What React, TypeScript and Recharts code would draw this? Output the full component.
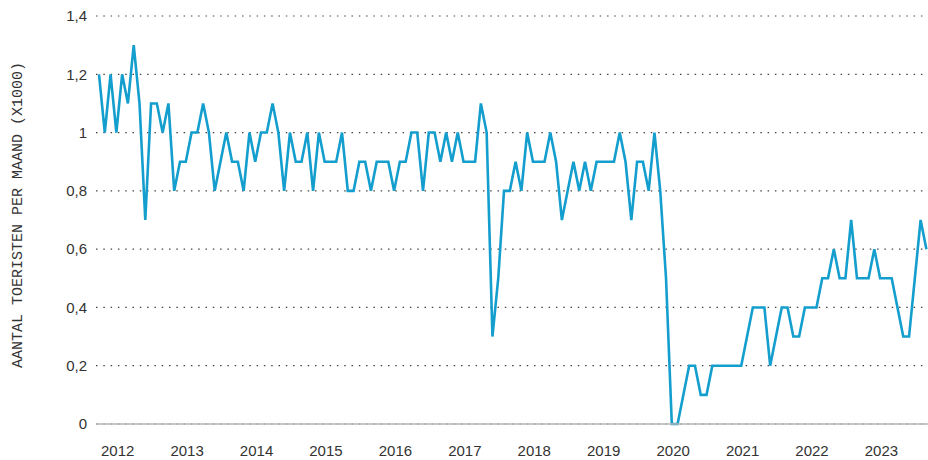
import React from "react";
import { LineChart, Line, XAxis, YAxis, CartesianGrid } from "recharts";

const years = ["2012", "2013", "2014", "2015", "2016", "2017", "2018", "2019", "2020", "2021", "2022", "2023"];

const v2012 = [1.2, 1.0, 1.2, 1.0, 1.2, 1.1, 1.3, 1.1, 0.7, 1.1, 1.1, 1.0];
const v2013 = [1.1, 0.8, 0.9, 0.9, 1.0, 1.0, 1.1, 1.0, 0.8, 0.9, 1.0, 0.9];
const v2014 = [0.9, 0.8, 1.0, 0.9, 1.0, 1.0, 1.1, 1.0, 0.8, 1.0, 0.9, 0.9];
const v2015 = [1.0, 0.8, 1.0, 0.9, 0.9, 0.9, 1.0, 0.8, 0.8, 0.9, 0.9, 0.8];
const v2016 = [0.9, 0.9, 0.9, 0.8, 0.9, 0.9, 1.0, 1.0, 0.8, 1.0, 1.0, 0.9];
const v2017 = [1.0, 0.9, 1.0, 0.9, 0.9, 0.9, 1.1, 1.0, 0.3, 0.5, 0.8, 0.8];
const v2018 = [0.9, 0.8, 1.0, 0.9, 0.9, 0.9, 1.0, 0.9, 0.7, 0.8, 0.9, 0.8];
const v2019 = [0.9, 0.8, 0.9, 0.9, 0.9, 0.9, 1.0, 0.9, 0.7, 0.9, 0.9, 0.8];
const v2020 = [1.0, 0.8, 0.5, 0.0, 0.0, 0.1, 0.2, 0.2, 0.1, 0.1, 0.2, 0.2];
const v2021 = [0.2, 0.2, 0.2, 0.2, 0.3, 0.4, 0.4, 0.4, 0.2, 0.3, 0.4, 0.4];
const v2022 = [0.3, 0.3, 0.4, 0.4, 0.4, 0.5, 0.5, 0.6, 0.5, 0.5, 0.7, 0.5];
const v2023 = [0.5, 0.5, 0.6, 0.5, 0.5, 0.5, 0.4, 0.3, 0.3, 0.5, 0.7, 0.6];

const yTicks = [0, 0.2, 0.4, 0.6, 0.8, 1.0, 1.2, 1.4];
const yTitle = "AANTAL TOERISTEN PER MAAND (X1000)";

const allValues = [
  ...v2012, ...v2013, ...v2014, ...v2015, ...v2016, ...v2017,
  ...v2018, ...v2019, ...v2020, ...v2021, ...v2022, ...v2023,
];
const data = allValues.map((v, i) => ({ i, v }));
const xTicks = years.map((_, k) => k * 12);

const FONT = "'Liberation Sans', Arial, sans-serif";
const MONO = "'Liberation Mono', 'DejaVu Sans Mono', monospace";
const TEXT = "#333333";

const fmtY = (v: number) => String(Math.round(v * 10) / 10).replace(".", ",");

const XTick = (props: any) => {
  const { x, y, payload } = props;
  return (
    <text x={x + 2} y={y} dy="0.71em" textAnchor="start" fill={TEXT} fontSize={15} fontFamily={FONT}>
      {years[Math.round(payload.value / 12)]}
    </text>
  );
};

const YTitle = (props: any) => {
  const { viewBox } = props;
  const cy = viewBox.y + viewBox.height / 2 - 5;
  const cx = 18;
  return (
    <text
      x={cx}
      y={cy}
      transform={`rotate(-90 ${cx} ${cy})`}
      textAnchor="middle"
      dominantBaseline="central"
      fill={TEXT}
      fontSize={15}
      fontFamily={MONO}
    >
      {yTitle}
    </text>
  );
};

export default function App() {
  return (
    <div style={{ position: "absolute", left: 0, top: 0, width: 928, height: 460, background: "#fff" }}>
      <LineChart width={928} height={460} data={data} margin={{ top: 16, right: 0, bottom: 0, left: 0 }}>
        <CartesianGrid vertical={false} stroke="#444" strokeDasharray="1.5 5.8" strokeWidth={1.2} />
        <XAxis
          dataKey="i"
          type="number"
          domain={[0, 143]}
          ticks={xTicks}
          interval={0}
          padding={{ left: 3, right: 1.6 }}
          height={36}
          tickLine={false}
          tickSize={0}
          tickMargin={21}
          axisLine={{ stroke: "#b5b5b5", strokeWidth: 1.5 }}
          tick={<XTick />}
        />
        <YAxis
          type="number"
          domain={[0, 1.4]}
          ticks={yTicks}
          width={96}
          axisLine={false}
          tickLine={false}
          tickSize={0}
          tickMargin={9}
          tickFormatter={fmtY}
          tick={{ fill: TEXT, fontSize: 15, fontFamily: FONT }}
          label={<YTitle />}
        />
        <Line
          type="linear"
          dataKey="v"
          stroke="#139ECE"
          strokeWidth={2.6}
          dot={false}
          activeDot={false}
          isAnimationActive={false}
        />
      </LineChart>
    </div>
  );
}
